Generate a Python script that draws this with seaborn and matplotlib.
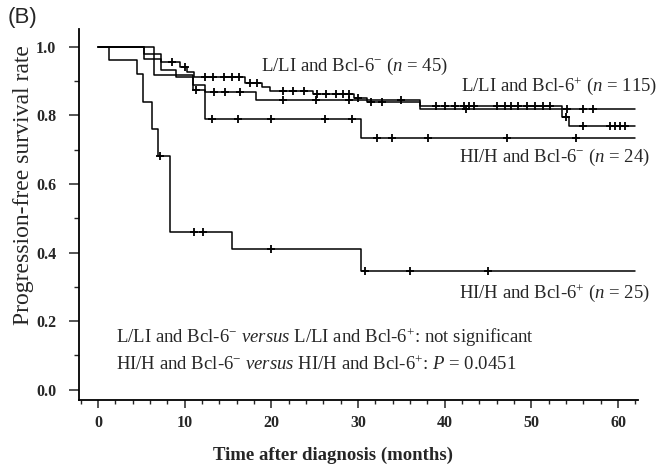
import numpy as np
import pandas as pd
import matplotlib
matplotlib.use("Agg")
import matplotlib.pyplot as plt
import seaborn as sns
from matplotlib.ticker import MultipleLocator

# ---------------- data ----------------
# step curves: time (months) where the level starts, and survival level
llI_pos_t = [0, 5.3, 7.3, 9.4, 10.3, 11.1, 17.0, 18.9, 19.8, 24.8, 29.5, 31.0, 37.2, 53.5, 54.3, 62.0]
llI_pos_s = [1.0, 0.965, 0.956, 0.940, 0.925, 0.912, 0.895, 0.884, 0.870, 0.862, 0.850, 0.840, 0.828, 0.795, 0.768, 0.768]
llI_pos_ct = [8.5, 10.0, 12.3, 13.3, 14.5, 15.4, 16.3, 17.5, 18.3, 21.3, 22.5, 23.8, 25.3, 26.3, 27.5,
              28.3, 29.0, 30.0, 31.5, 32.8, 39.0, 40.0, 41.2, 42.2, 42.8, 43.4, 46.0, 47.0, 47.7,
              48.5, 49.5, 50.4, 51.3, 52.2, 54.0, 56.0, 59.1, 59.6, 60.2, 60.8]

llI_neg_t = [0, 5.3, 7.3, 9.0, 11.0, 12.3, 18.2, 37.2, 62.0]
llI_neg_s = [1.0, 0.978, 0.933, 0.911, 0.889, 0.867, 0.845, 0.818, 0.818]
llI_neg_ct = [13.4, 14.7, 16.4, 21.3, 25.1, 28.9, 34.9, 42.5, 54.1, 56.0, 57.1]

hih_neg_t = [0, 6.4, 11.0, 12.3, 30.3, 62.0]
hih_neg_s = [1.0, 0.917, 0.875, 0.79, 0.735, 0.735]
hih_neg_ct = [11.3, 13.2, 16.2, 20.0, 26.2, 29.3, 32.2, 33.9, 38.1, 47.2, 55.2]

hih_pos_t = [0, 1.25, 4.5, 5.2, 6.2, 6.9, 8.3, 15.4, 30.3, 62.0]
hih_pos_s = [1.0, 0.96, 0.92, 0.84, 0.76, 0.68, 0.46, 0.41, 0.345, 0.345]
hih_pos_ct = [7.1, 11.1, 12.1, 19.9, 30.8, 36.0, 45.0]

group_names = ["L/LI Bcl-6+", "L/LI Bcl-6-", "HI/H Bcl-6-", "HI/H Bcl-6+"]

x_ticks = [0, 10, 20, 30, 40, 50, 60]
y_ticks = [0.0, 0.2, 0.4, 0.6, 0.8, 1.0]
y_tick_labels = ["0.0", "0.2", "0.4", "0.6", "0.8", "1.0"]

# ---------------- build tables ----------------
curves = [(llI_pos_t, llI_pos_s, llI_pos_ct),
          (llI_neg_t, llI_neg_s, llI_neg_ct),
          (hih_neg_t, hih_neg_s, hih_neg_ct),
          (hih_pos_t, hih_pos_s, hih_pos_ct)]

line_rows, cens_rows = [], []
for name, (t, s, ct) in zip(group_names, curves):
    for ti, si in zip(t, s):
        line_rows.append({"group": name, "time": ti, "surv": si})
    for c in ct:
        idx = np.searchsorted(t, c, side="right") - 1
        cens_rows.append({"group": name, "time": c, "surv": s[idx]})
lines_df = pd.DataFrame(line_rows)
cens_df = pd.DataFrame(cens_rows)

# ---------------- style ----------------
sns.set_style("ticks")
plt.rcParams["font.family"] = ["Liberation Serif", "DejaVu Serif"]
plt.rcParams["mathtext.fontset"] = "custom"
plt.rcParams["mathtext.rm"] = "Liberation Serif"
plt.rcParams["mathtext.it"] = "Liberation Serif:italic"
plt.rcParams["mathtext.bf"] = "Liberation Serif:bold"

fig = plt.figure(figsize=(6.65, 4.66), dpi=100)
ax = fig.add_axes([0.1188, 0.1416, 0.8406, 0.7964])

sns.lineplot(data=lines_df, x="time", y="surv", units="group", estimator=None,
             drawstyle="steps-post", color="black", linewidth=1.1, ax=ax,
             legend=False, sort=True)
sns.scatterplot(data=cens_df, x="time", y="surv", marker="+", s=40,
                color="black", linewidth=1.3, ax=ax, legend=False, zorder=3)

ax.set_xlim(-2.2, 62.3)
ax.set_ylim(-0.03, 1.052)
ax.set_xticks(x_ticks)
ax.set_yticks(y_ticks)
ax.set_yticklabels(y_tick_labels)
ax.xaxis.set_minor_locator(MultipleLocator(2))
ax.yaxis.set_minor_locator(MultipleLocator(0.1))

for s in ["top", "right"]:
    ax.spines[s].set_visible(False)
for s in ["left", "bottom"]:
    ax.spines[s].set_linewidth(1.3)
    ax.spines[s].set_color("black")

ax.tick_params(axis="y", which="major", length=7.5, width=1.1, pad=9, labelsize=11.5)
ax.tick_params(axis="y", which="minor", length=3.6, width=1.0)
ax.tick_params(axis="x", which="major", length=6, width=1.1, pad=5, labelsize=11.5)
ax.tick_params(axis="x", which="minor", length=3, width=1.0)
for lab in ax.get_xticklabels() + ax.get_yticklabels():
    lab.set_fontweight("bold")

ax.set_xlabel("Time after diagnosis (months)", fontsize=13.5, fontweight="bold")
ax.set_ylabel("Progression-free survival rate", fontsize=17)
ax.xaxis.label.set_va("center")
ax.yaxis.label.set_va("center")
ax.xaxis.set_label_coords(0.454, -0.148)
ax.yaxis.set_label_coords(-0.10, 0.58)

fs = 13.5
ax.text(18.8, 0.942, r"L/LI and Bcl-6$^{-}$ ($n$ = 45)", fontsize=fs, ha="left", va="center")
ax.text(41.9, 0.884, r"L/LI and Bcl-6$^{+}$ ($n$ = 115)", fontsize=fs, ha="left", va="center")
ax.text(41.6, 0.676, r"HI/H and Bcl-6$^{-}$ ($n$ = 24)", fontsize=fs, ha="left", va="center")
ax.text(41.6, 0.283, r"HI/H and Bcl-6$^{+}$ ($n$ = 25)", fontsize=fs, ha="left", va="center")
ax.text(2.1, 0.152, r"L/LI and Bcl-6$^{-}$ $\it{versus}$ L/LI and Bcl-6$^{+}$: not significant",
        fontsize=fs, ha="left", va="center")
ax.text(2.1, 0.073, r"HI/H and Bcl-6$^{-}$ $\it{versus}$ HI/H and Bcl-6$^{+}$: $P$ = 0.0451",
        fontsize=fs, ha="left", va="center")

fig.text(0.012, 0.962, "(B)", fontsize=16, family=["Liberation Sans", "DejaVu Sans"],
         ha="left", va="center")

fig.savefig("out.png", dpi=100)
